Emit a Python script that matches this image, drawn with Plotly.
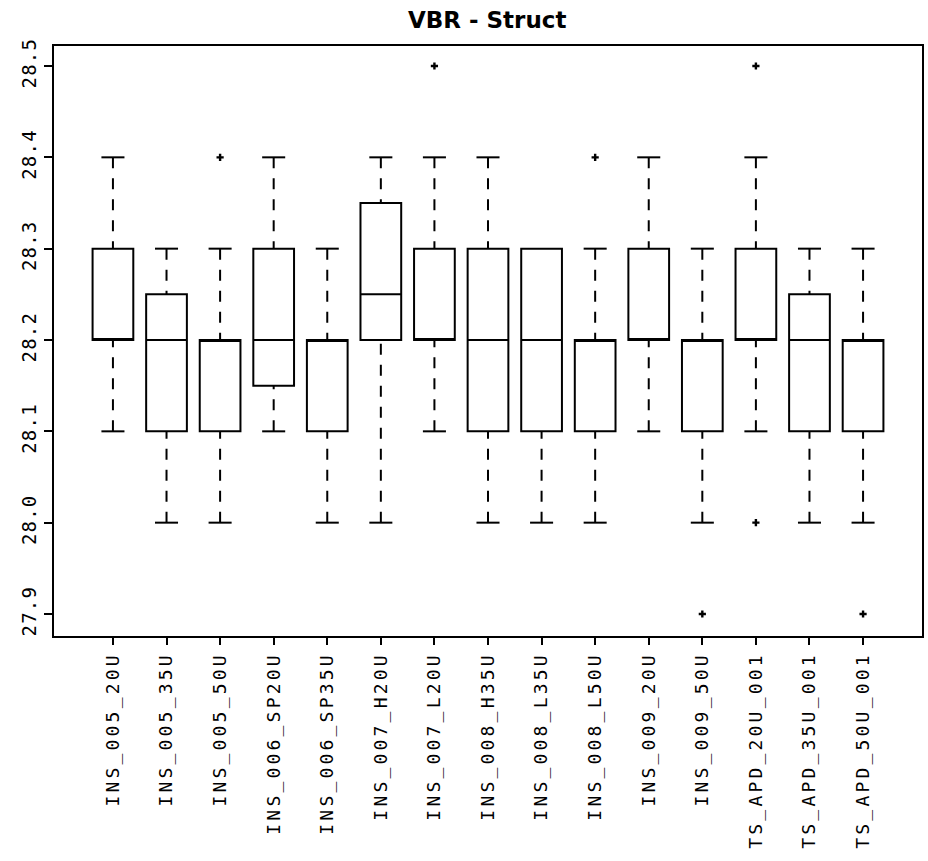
import plotly.graph_objects as go

# Box-plot summary for each configuration
categories = [
    "INS_005_20U", "INS_005_35U", "INS_005_50U", "INS_006_SP20U", "INS_006_SP35U",
    "INS_007_H20U", "INS_007_L20U", "INS_008_H35U", "INS_008_L35U", "INS_008_L50U",
    "INS_009_20U", "INS_009_50U", "TS_APD_20U_001", "TS_APD_35U_001", "TS_APD_50U_001",
]
lower_whisker = [28.1, 28.0, 28.0, 28.1, 28.0, 28.0, 28.1, 28.0, 28.0, 28.0, 28.1, 28.0, 28.1, 28.0, 28.0]
q1 = [28.2, 28.1, 28.1, 28.15, 28.1, 28.2, 28.2, 28.1, 28.1, 28.1, 28.2, 28.1, 28.2, 28.1, 28.1]
median = [28.2, 28.2, 28.2, 28.2, 28.2, 28.25, 28.2, 28.2, 28.2, 28.2, 28.2, 28.2, 28.2, 28.2, 28.2]
q3 = [28.3, 28.25, 28.2, 28.3, 28.2, 28.35, 28.3, 28.3, 28.3, 28.2, 28.3, 28.2, 28.3, 28.25, 28.2]
upper_whisker = [28.4, 28.3, 28.3, 28.4, 28.3, 28.4, 28.4, 28.4, 28.3, 28.3, 28.4, 28.3, 28.4, 28.3, 28.3]

# Outlying observations: category index and value
outlier_index = [2, 6, 9, 11, 12, 12, 14]
outlier_value = [28.4, 28.5, 28.4, 27.9, 28.5, 28.0, 27.9]

y_ticks = [27.9, 28.0, 28.1, 28.2, 28.3, 28.4, 28.5]

BOX_WIDTH = 0.76
CAP_HALF = 0.215
positions = list(range(len(categories)))

fig = go.Figure()

# Boxes (whiskers drawn separately so they can be dashed)
fig.add_trace(go.Box(
    x=positions,
    q1=q1, median=median, q3=q3,
    lowerfence=q1, upperfence=q3,
    width=BOX_WIDTH,
    whiskerwidth=0,
    fillcolor="white",
    line=dict(color="black", width=2),
    boxpoints=False,
    hoverinfo="skip",
    showlegend=False,
))

# Dashed whisker stems, from whisker end back to the box
wx, wy = [], []
for i, p in enumerate(positions):
    if upper_whisker[i] > q3[i]:
        wx += [p, p, None]
        wy += [upper_whisker[i], q3[i], None]
    if lower_whisker[i] < q1[i]:
        wx += [p, p, None]
        wy += [lower_whisker[i], q1[i], None]
fig.add_trace(go.Scatter(
    x=wx, y=wy, mode="lines",
    line=dict(color="black", width=2, dash="11px,10px"),
    hoverinfo="skip", showlegend=False,
))

# Whisker caps
cx, cy = [], []
for i, p in enumerate(positions):
    if upper_whisker[i] > q3[i]:
        cx += [p - CAP_HALF, p + CAP_HALF, None]
        cy += [upper_whisker[i], upper_whisker[i], None]
    if lower_whisker[i] < q1[i]:
        cx += [p - CAP_HALF, p + CAP_HALF, None]
        cy += [lower_whisker[i], lower_whisker[i], None]
fig.add_trace(go.Scatter(
    x=cx, y=cy, mode="lines",
    line=dict(color="black", width=2),
    hoverinfo="skip", showlegend=False,
))

# Outliers
fig.add_trace(go.Scatter(
    x=[positions[k] for k in outlier_index], y=outlier_value,
    mode="markers",
    marker=dict(symbol="cross", size=6, color="black"),
    hoverinfo="skip", showlegend=False,
))

fig.update_layout(
    width=928, height=861,
    margin=dict(l=54, r=4, t=46, b=225),
    paper_bgcolor="white", plot_bgcolor="white",
    title=dict(
        text="VBR - Struct",
        x=0.525, xanchor="center", y=0.977, yanchor="middle",
        font=dict(family="DejaVu Sans", size=23, color="black", weight="bold"),
    ),
    font=dict(family="DejaVu Sans", color="black"),
)
fig.update_xaxes(
    range=[-1.1, 15.1],
    tickmode="array", tickvals=positions, ticktext=categories,
    tickangle=-90,
    tickfont=dict(family="DejaVu Sans Mono", size=18, color="black"),
    ticks="outside", ticklen=7, tickwidth=2, tickcolor="black",
    showline=True, linecolor="black", linewidth=2, mirror=True,
    showgrid=False, zeroline=False,
)
fig.update_yaxes(
    range=[27.8759, 28.5219],
    tickmode="array", tickvals=y_ticks, ticktext=[f"{v:.1f}" for v in y_ticks],
    tickangle=-90,
    tickfont=dict(family="DejaVu Sans Mono", size=19, color="black"),
    ticks="outside", ticklen=8, tickwidth=2, tickcolor="black",
    showline=True, linecolor="black", linewidth=2, mirror=True,
    showgrid=False, zeroline=False,
)

spacing_js = """
var gd = document.getElementById('{plot_id}');
function spaceLabels() {
  gd.querySelectorAll('.xtick text').forEach(function (t) { t.style.letterSpacing = '3.2px'; });
  gd.querySelectorAll('.ytick text').forEach(function (t) { t.style.letterSpacing = '1.2px'; });
}
spaceLabels();
gd.on('plotly_afterplot', spaceLabels);
"""

fig.write_html("out.html", post_script=spacing_js)
